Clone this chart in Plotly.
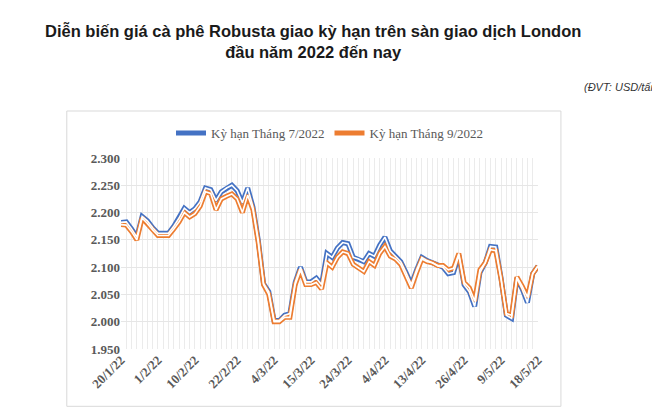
import plotly.graph_objects as go

ky7 = [2182, 2183, 2170, 2155, 2193, 2185, 2172, 2162, 2162, 2162, 2175, 2190, 2208, 2200,
       2207, 2220, 2245, 2242, 2222, 2238, 2245, 2250, 2240, 2218, 2245, 2210, 2150, 2070,
       2055, 2002, 2002, 2012, 2015, 2072, 2100, 2073, 2073, 2080, 2068, 2125, 2118, 2135,
       2145, 2143, 2118, 2115, 2110, 2125, 2120, 2140, 2155, 2130, 2120, 2110, 2090, 2068,
       2095, 2118, 2112, 2108, 2102, 2100, 2088, 2090, 2122, 2068, 2055, 2028, 2090, 2108,
       2138, 2137, 2080, 2012, 2006, 2080, 2060, 2035, 2088, 2102]
ky9 = [2178, 2177, 2165, 2150, 2190, 2180, 2168, 2158, 2158, 2158, 2170, 2183, 2200, 2192,
       2198, 2212, 2238, 2235, 2205, 2225, 2230, 2234, 2225, 2200, 2232, 2205, 2145, 2068,
       2050, 2000, 2000, 2008, 2008, 2068, 2095, 2068, 2068, 2072, 2060, 2108, 2100, 2118,
       2128, 2125, 2105, 2098, 2092, 2110, 2103, 2125, 2138, 2120, 2115, 2105, 2085, 2062,
       2090, 2115, 2110, 2108, 2103, 2103, 2095, 2098, 2125, 2072, 2062, 2038, 2095, 2108,
       2132, 2130, 2078, 2015, 2012, 2082, 2065, 2045, 2088, 2102]
tick_labels = ["20/1/22", "1/2/22", "10/2/22", "22/2/22", "4/3/22", "15/3/22", "24/3/22",
               "4/4/22", "13/4/22", "26/4/22", "9/5/22", "18/5/22"]

n = len(ky7)
x = list(range(n))
tick_pos = [round(k * (n - 1) / (len(tick_labels) - 1)) for k in range(len(tick_labels))]

fig = go.Figure()
for name, ys, col in [("Kỳ hạn Tháng 7/2022", ky7, "#4472C4"),
                      ("Kỳ hạn Tháng 9/2022", ky9, "#ED7D31")]:
    fig.add_trace(go.Scatter(x=x, y=ys, name=name, mode="lines",
                             line=dict(color=col, width=5)))
for ys in [ky7, ky9]:
    fig.add_trace(go.Scatter(x=x, y=ys, mode="lines", showlegend=False, hoverinfo="skip",
                             line=dict(color="white", width=1.6)))

serif = "Liberation Serif"
fig.update_layout(
    width=660, height=409, paper_bgcolor="white", plot_bgcolor="white",
    margin=dict(l=113, r=130, t=150, b=68),
    separators=",.",
    font=dict(family=serif, color="#595959"),
    legend=dict(orientation="h", x=0.5, xanchor="center", y=1.13, yanchor="middle",
                font=dict(family=serif, size=13, color="#595959")),
    xaxis=dict(range=[0, n - 1], tickvals=tick_pos,
               ticktext=["<b>%s</b>" % t for t in tick_labels], tickangle=-45,
               showgrid=False, tickfont=dict(family=serif, size=13, color="#595959"),
               minor=dict(dtick=1, tick0=0, showgrid=True, gridcolor="#EBEBEB", gridwidth=1),
               showline=False, zeroline=False),
    yaxis=dict(range=[1950, 2300], tickvals=list(range(1950, 2301, 50)),
               ticktext=["<b>%d.%03d</b>" % (v // 1000, v % 1000) for v in range(1950, 2301, 50)],
               tickfont=dict(family=serif, size=13, color="#595959"),
               gridcolor="#E6E6E6", zeroline=False, showline=False),
    annotations=[
        dict(text="<b>Diễn biến giá cà phê Robusta giao kỳ hạn trên sàn giao dịch London<br>đầu năm 2022 đến nay</b>",
             xref="paper", yref="paper", x=-0.187, y=1.72, xanchor="left", yanchor="top",
             align="center", showarrow=False,
             font=dict(family="Liberation Sans", size=16.5, color="#1a1a1a")),
        dict(text="<i>(ĐVT: USD/tấn)</i>", xref="paper", yref="paper", x=1.30, y=1.37,
             xanchor="right", yanchor="middle", showarrow=False,
             font=dict(family="Liberation Sans", size=11, color="#333333")),
    ],
    shapes=[dict(type="rect", xref="paper", yref="paper", x0=-0.13, x1=1.055, y0=-0.3, y1=1.246,
                 line=dict(color="#D9D9D9", width=1))],
)
fig.write_html("out.html")
